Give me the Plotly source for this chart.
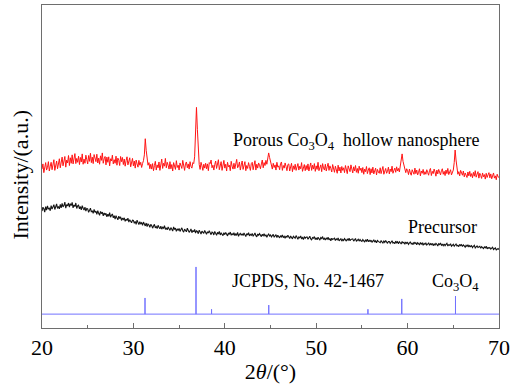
import plotly.graph_objects as go

# ---------------- data ----------------
TWO_THETA_START = 20.0
TWO_THETA_STEP = 0.1

porous_co3o4 = [
    49.2, 50.8, 48.1, 50.3, 51.2, 48.9, 49.7, 51.5, 48.6, 50.1,
    51.3, 49.0, 50.6, 52.1, 48.8, 50.4, 51.7, 49.3, 50.9, 52.4,
    49.6, 51.8, 52.9, 50.2, 51.4, 53.1, 49.8, 52.0, 51.1, 53.4,
    50.3, 52.7, 51.0, 53.6, 50.8, 52.2, 54.0, 50.9, 52.5, 51.3,
    53.2, 50.6, 52.8, 51.4, 53.9, 50.7, 52.3, 51.0, 53.5, 52.1,
    50.8, 53.4, 51.6, 54.1, 51.2, 52.9, 50.9, 53.7, 52.2, 51.5,
    53.8, 51.1, 52.6, 50.7, 53.3, 51.9, 54.2, 51.0, 52.4, 53.1,
    50.5, 52.9, 51.3, 53.0, 50.2, 52.4, 51.7, 53.5, 50.8, 52.1,
    51.0, 53.2, 50.4, 52.6, 51.9, 50.3, 53.1, 51.5, 52.8, 50.6,
    52.3, 50.1, 51.8, 53.0, 50.5, 51.6, 52.7, 49.9, 51.4, 52.5,
    50.2, 51.7, 49.5, 52.0, 50.8, 49.8, 51.9, 50.4, 51.3, 49.7,
    50.9, 51.8, 53.6, 58.6, 55.0, 52.1, 50.4, 51.2, 49.3, 50.7,
    49.2, 50.9, 48.7, 50.3, 51.6, 48.9, 50.5, 49.6, 51.4, 48.8,
    50.7, 52.3, 49.4, 51.0, 50.1, 52.5, 49.6, 51.3, 50.4, 49.2,
    51.5, 49.3, 50.6, 48.6, 51.2, 50.0, 49.1, 51.8, 49.7, 50.4,
    48.9, 51.1, 50.2, 49.4, 51.9, 50.5, 48.8, 50.9, 51.4, 49.6,
    50.8, 49.2, 51.5, 50.0, 49.5, 51.2, 50.9, 53.0, 59.8, 68.3,
    61.5, 53.8, 50.6, 49.1, 51.3, 50.2, 48.8, 50.7, 49.5, 51.0,
    49.3, 50.8, 48.7, 51.2, 50.9, 52.0, 49.6, 50.4, 48.9, 50.6,
    51.7, 49.4, 50.9, 52.1, 49.0, 50.6, 51.5, 48.8, 50.2, 51.9,
    49.5, 50.7, 48.6, 51.3, 49.9, 50.4, 48.7, 51.6, 50.1, 49.2,
    51.0, 49.3, 50.8, 52.2, 49.6, 50.1, 51.4, 48.9, 50.5, 51.7,
    49.1, 50.6, 51.5, 48.7, 50.3, 49.4, 51.2, 50.0, 48.8, 50.9,
    51.3, 49.0, 50.2, 51.8, 48.9, 50.7, 49.5, 51.1, 50.4, 49.3,
    50.8, 52.0, 49.6, 51.2, 50.3, 51.9, 50.7, 52.6, 54.2, 52.8,
    51.5, 50.1, 49.2, 51.0, 49.7, 50.5, 48.9, 51.3, 49.8, 50.2,
    49.0, 50.9, 51.4, 48.8, 50.3, 49.5, 51.1, 50.0, 48.7, 50.6,
    50.8, 48.6, 49.9, 51.0, 48.4, 50.2, 49.1, 50.7, 48.8, 49.6,
    50.9, 48.9, 50.1, 49.3, 51.2, 48.5, 49.8, 50.6, 48.7, 50.3,
    49.0, 50.8, 48.6, 49.9, 51.1, 48.8, 50.4, 49.2, 50.9, 48.5,
    50.2, 49.1, 51.3, 48.7, 49.8, 50.5, 48.4, 50.9, 49.5, 48.9,
    50.7, 48.6, 49.9, 51.0, 48.8, 50.2, 49.4, 48.3, 50.6, 49.7,
    48.2, 50.1, 49.3, 47.9, 50.4, 48.6, 49.8, 48.0, 50.0, 48.8,
    49.6, 48.1, 50.3, 48.9, 47.8, 50.2, 49.0, 48.4, 50.5, 48.7,
    48.0, 49.9, 48.6, 50.3, 48.2, 49.4, 47.9, 50.1, 48.8, 49.5,
    48.1, 49.7, 47.6, 49.2, 48.4, 50.0, 47.8, 48.9, 49.6, 47.5,
    49.3, 48.0, 49.8, 47.7, 48.6, 49.5, 47.4, 49.1, 48.3, 47.9,
    49.6, 47.8, 48.9, 50.0, 47.6, 48.7, 49.4, 47.9, 48.5, 49.8,
    47.7, 49.2, 48.4, 50.1, 47.9, 48.8, 49.5, 48.2, 49.9, 48.6,
    49.4, 48.3, 50.6, 51.8, 53.9, 51.6, 50.2, 48.9, 48.1, 49.3,
    48.7, 47.5, 49.2, 48.0, 47.3, 49.0, 48.4, 47.6, 49.5, 47.8,
    48.9, 47.4, 48.2, 49.3, 47.1, 48.6, 47.9, 49.1, 47.5, 48.4,
    47.6, 49.0, 48.1, 47.3, 48.8, 49.4, 47.2, 48.5, 47.8, 49.2,
    48.3, 47.0, 48.9, 47.7, 49.1, 48.0, 47.4, 48.7, 49.3, 47.6,
    48.5, 47.2, 48.9, 47.8, 49.4, 47.5, 48.2, 49.0, 47.4, 48.6,
    48.9, 51.2, 55.1, 52.0, 49.3, 47.6, 48.4, 47.1, 48.8, 47.7,
    47.3, 48.6, 46.8, 48.0, 47.5, 46.6, 48.3, 47.1, 48.5, 46.9,
    47.8, 46.5, 48.2, 47.0, 48.7, 46.7, 47.6, 48.4, 46.4, 47.9,
    47.2, 46.3, 48.0, 46.8, 47.5, 46.1, 47.9, 46.6, 47.4, 48.1,
    46.5, 47.7, 46.2, 47.3, 48.0, 46.4, 47.1, 45.9, 47.6, 46.8,
    46.6,
]

precursor = [
    36.2, 37.4, 36.9, 35.9, 37.6, 36.5, 37.8, 36.8, 37.1, 36.3,
    37.9, 36.8, 37.5, 38.2, 36.7, 37.3, 38.4, 37.0, 37.6, 36.9,
    38.3, 37.2, 38.6, 37.5, 37.9, 39.0, 37.1, 38.2, 37.8, 38.7,
    37.4, 38.5, 37.9, 38.9, 37.2, 38.1, 37.6, 38.7, 37.0, 37.8,
    38.0, 36.9, 37.6, 36.6, 37.9, 37.1, 36.5, 37.4, 36.2, 37.0,
    36.9, 35.8, 36.6, 37.1, 35.9, 36.3, 35.5, 36.7, 35.8, 36.2,
    35.2, 36.3, 35.5, 34.9, 36.1, 35.4, 35.9, 34.7, 35.6, 35.1,
    35.5, 34.4, 35.2, 34.6, 35.7, 34.3, 34.9, 35.3, 34.1, 34.8,
    33.7, 34.8, 34.1, 33.5, 34.6, 33.9, 34.4, 33.3, 34.0, 33.6,
    34.1, 33.0, 33.7, 33.3, 34.0, 32.8, 33.5, 33.1, 32.6, 33.4,
    33.3, 32.4, 33.0, 32.1, 33.4, 32.7, 32.0, 32.9, 32.3, 32.6,
    31.8, 32.8, 32.0, 31.6, 32.5, 31.4, 32.2, 31.9, 31.2, 32.1,
    31.7, 30.9, 31.6, 32.1, 31.0, 31.4, 30.8, 31.8, 31.2, 30.7,
    31.5, 30.6, 31.2, 30.9, 31.7, 30.5, 31.0, 30.4, 31.3, 30.8,
    30.2, 31.1, 30.6, 30.0, 31.3, 30.5, 30.9, 29.9, 30.7, 30.3,
    30.8, 29.9, 30.5, 31.0, 30.1, 29.7, 30.6, 30.2, 29.8, 30.9,
    30.3, 29.6, 30.0, 30.7, 29.5, 30.2, 29.8, 30.5, 29.4, 30.1,
    29.9, 29.2, 30.3, 29.6, 29.1, 30.0, 29.7, 29.3, 30.2, 29.5,
    29.0, 29.8, 29.4, 30.1, 29.2, 28.9, 29.7, 29.5, 28.8, 29.9,
    29.3, 28.7, 29.6, 29.1, 29.9, 28.8, 29.4, 29.0, 28.6, 29.5,
    28.9, 29.6, 29.1, 28.5, 29.4, 29.0, 29.7, 28.7, 29.2, 28.8,
    29.5, 28.6, 29.1, 28.8, 29.6, 28.4, 29.0, 29.3, 28.7, 29.2,
    28.6, 29.4, 28.9, 28.3, 29.2, 28.8, 29.5, 28.5, 29.0, 28.7,
    29.3, 28.4, 28.9, 29.4, 28.6, 28.2, 29.1, 28.7, 29.2, 28.5,
    28.3, 29.0, 28.6, 29.2, 28.4, 28.9, 28.1, 28.7, 29.1, 28.5,
    28.8, 28.2, 28.6, 29.0, 28.1, 28.5, 28.9, 28.0, 28.7, 28.3,
    27.9, 28.6, 28.2, 28.8, 28.0, 28.4, 27.8, 28.5, 28.1, 28.7,
    28.3, 27.7, 28.5, 28.0, 27.6, 28.4, 28.1, 27.8, 28.6, 27.9,
    27.5, 28.2, 27.9, 28.5, 27.7, 28.0, 27.4, 28.3, 27.8, 28.1,
    28.2, 27.5, 27.9, 28.4, 27.6, 27.3, 28.0, 27.8, 28.3, 27.4,
    27.9, 27.3, 28.1, 27.6, 27.2, 28.0, 27.7, 28.3, 27.4, 27.8,
    27.2, 27.9, 27.5, 28.1, 27.3, 27.7, 27.0, 27.8, 27.4, 27.6,
    27.8, 27.1, 27.6, 27.3, 27.9, 27.0, 27.5, 27.7, 26.9, 27.4,
    27.1, 27.7, 27.3, 26.9, 27.6, 27.2, 27.8, 27.0, 27.4, 27.5,
    27.6, 26.9, 27.3, 27.7, 26.8, 27.2, 27.5, 26.9, 27.4, 27.0,
    26.8, 27.4, 27.0, 26.6, 27.3, 26.9, 27.5, 26.7, 27.1, 26.8,
    27.2, 26.5, 26.9, 27.3, 26.6, 27.0, 26.4, 27.1, 26.8, 26.6,
    26.4, 27.0, 26.7, 26.3, 26.9, 26.5, 27.1, 26.6, 26.2, 26.8,
    26.8, 26.2, 26.6, 27.0, 26.3, 26.5, 26.1, 26.9, 26.4, 26.7,
    26.1, 26.7, 26.4, 26.0, 26.8, 26.3, 26.5, 25.9, 26.6, 26.2,
    26.5, 25.9, 26.3, 26.7, 26.0, 26.2, 25.8, 26.6, 26.1, 26.4,
    25.8, 26.4, 26.1, 25.7, 26.5, 26.0, 26.3, 25.6, 26.2, 25.9,
    26.3, 25.7, 26.0, 26.4, 25.6, 26.1, 25.8, 26.2, 25.5, 26.0,
    25.7, 26.2, 25.9, 25.4, 26.1, 25.8, 26.3, 25.6, 25.9, 25.5,
    26.0, 25.5, 25.9, 26.2, 25.4, 25.8, 25.6, 26.1, 25.3, 25.7,
    25.9, 25.3, 25.7, 26.0, 25.4, 25.6, 25.2, 25.9, 25.5, 25.8,
    25.2, 25.7, 25.4, 25.0, 25.6, 25.3, 25.8, 25.1, 25.5, 25.2,
    25.5, 24.9, 25.3, 25.6, 24.8, 25.2, 25.4, 24.9, 25.1, 25.3,
    24.7, 25.2, 24.9, 24.6, 25.1, 24.8, 25.3, 24.5, 24.9, 24.7,
    24.9, 24.4, 24.7, 25.0, 24.3, 24.6, 24.8, 24.2, 24.5, 24.6,
    24.3,
]

# JCPDS No. 42-1467 (Co3O4) reference lines
jcpds_positions = [31.27, 36.85, 38.55, 44.81, 55.66, 59.36, 65.24]
jcpds_heights = [5.0, 14.6, 1.5, 2.8, 1.5, 4.7, 5.6]
JCPDS_BASELINE = 4.3

# ---------------- build ----------------
two_theta = [round(TWO_THETA_START + i * TWO_THETA_STEP, 2) for i in range(len(porous_co3o4))]

ref_x = [20.0]
ref_y = [JCPDS_BASELINE]
for p, h in zip(jcpds_positions, jcpds_heights):
    ref_x += [p, p, p]
    ref_y += [JCPDS_BASELINE, JCPDS_BASELINE + h, JCPDS_BASELINE]
ref_x.append(70.0)
ref_y.append(JCPDS_BASELINE)

FONT = "Liberation Serif"
FRAME = "#6e6e6e"

fig = go.Figure()
fig.add_trace(go.Scatter(x=ref_x, y=ref_y, mode="lines",
                         line=dict(color="#7272ff", width=1), hoverinfo="skip"))
fig.add_trace(go.Scatter(x=two_theta, y=precursor, mode="lines",
                         line=dict(color="#151515", width=1.1)))
fig.add_trace(go.Scatter(x=two_theta, y=porous_co3o4, mode="lines",
                         line=dict(color="#ff1414", width=1.0)))

ann_font = dict(family=FONT, size=18, color="black")
fig.add_annotation(x=40.7, y=57.6, xref="x", yref="y", xanchor="left", yanchor="middle",
                   text="Porous Co<sub>3</sub>O<sub>4</sub>  hollow nanosphere",
                   showarrow=False, font=ann_font)
fig.add_annotation(x=67.8, y=31.3, xref="x", yref="y", xanchor="right", yanchor="middle",
                   text="Precursor", showarrow=False, font=ann_font)
fig.add_annotation(x=40.6, y=14.6, xref="x", yref="y", xanchor="left", yanchor="middle",
                   text="JCPDS, No. 42-1467", showarrow=False, font=ann_font)
fig.add_annotation(x=62.5, y=14.2, xref="x", yref="y", xanchor="left", yanchor="middle",
                   text="Co<sub>3</sub>O<sub>4</sub>", showarrow=False, font=ann_font)
# y-axis title (placed slightly below centre, as in the reference)
fig.add_annotation(x=-0.046, y=0.475, xref="paper", yref="paper", xanchor="center", yanchor="middle",
                   text="Intensity/(a.u.)", textangle=-90, showarrow=False,
                   font=dict(family=FONT, size=22, color="black"))

fig.update_layout(
    width=517, height=385,
    margin=dict(l=42, r=18, t=5, b=57),
    paper_bgcolor="white", plot_bgcolor="white",
    showlegend=False,
    font=dict(family=FONT, color="black"),
    xaxis=dict(
        range=[20, 70], tickmode="linear", tick0=20, dtick=10,
        ticks="inside", ticklen=5, tickwidth=1, tickcolor=FRAME,
        minor=dict(ticks="inside", dtick=5, ticklen=3, tickcolor=FRAME),
        showline=True, linecolor=FRAME, linewidth=1, mirror=True,
        showgrid=False, zeroline=False,
        tickfont=dict(family=FONT, size=22, color="black"),
        title=dict(text="2<i>θ</i>/(°)", font=dict(family=FONT, size=22, color="black"), standoff=4),
    ),
    yaxis=dict(
        range=[0, 100], showticklabels=False, ticks="",
        showline=True, linecolor=FRAME, linewidth=1, mirror=True,
        showgrid=False, zeroline=False,
    ),
)

fig.write_html("out.html")
